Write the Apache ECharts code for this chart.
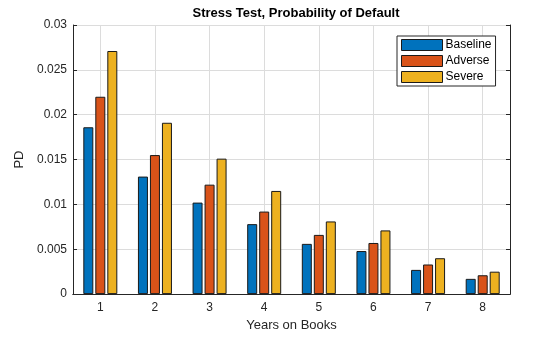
<!DOCTYPE html>
<html><head><meta charset="utf-8">
<script src="https://cdn.jsdelivr.net/npm/echarts@6/dist/echarts.min.js"></script>
<style>html,body{margin:0;padding:0;background:#fff}#c{width:560px;height:337px}</style>
</head><body><div id="c"></div>
<script>
const categories = ['1','2','3','4','5','6','7','8'];
const baseline = [0.0186, 0.0131, 0.0102, 0.0078, 0.0056, 0.0048, 0.0027, 0.0017];
const adverse  = [0.0220, 0.0155, 0.0122, 0.0092, 0.0066, 0.0057, 0.0033, 0.0021];
const severe   = [0.0271, 0.0191, 0.0151, 0.0115, 0.0081, 0.0071, 0.0040, 0.0025];
const seriesNames = ['Baseline','Adverse','Severe'];
const yTicks = ['0','0.005','0.01','0.015','0.02','0.025','0.03'];

const FONT = 'Liberation Sans, Arial, sans-serif';
const TXT = '#262626';
const chart = echarts.init(document.getElementById('c'), null, {renderer:'canvas'});
const mkSeries = (name, data, color) => ({
  name, type:'bar', data, xAxisIndex:0, yAxisIndex:0, z:3,
  barWidth:10, barGap:'20%',
  itemStyle:{color, borderColor:'#1a1a1a', borderWidth:1}
});
chart.setOption({
  animation:false,
  title:{text:'Stress Test, Probability of Default', left:291, top:2, textAlign:'center',
    textStyle:{fontFamily:FONT, fontSize:13, fontWeight:'bold', color:'#000'}},
  grid:{left:73, right:50, top:25, bottom:39},
  legend:{orient:'vertical', left:397, top:36, itemWidth:41, itemHeight:11, itemGap:4,
    icon:'rect', padding:[3,4,3,4], backgroundColor:'#fff', borderColor:'#262626', borderWidth:1, borderRadius:0,
    data:seriesNames,
    itemStyle:{borderWidth:1, borderColor:'#1a1a1a'},
    textStyle:{fontFamily:FONT, fontSize:12, color:'#000', padding:[0,0,0,-2]}},
  xAxis:[{type:'category', data:categories, position:'bottom',
    name:'Years on Books', nameLocation:'middle', nameGap:23,
    nameTextStyle:{fontFamily:FONT, fontSize:13, color:TXT},
    axisLine:{lineStyle:{color:TXT}},
    axisTick:{inside:true, alignWithLabel:true, length:4, lineStyle:{color:TXT}},
    axisLabel:{fontFamily:FONT, fontSize:12, color:TXT, margin:8},
    splitLine:{show:false}},
   {type:'category', data:categories, position:'top',
    axisLine:{lineStyle:{color:TXT}},
    axisTick:{inside:true, alignWithLabel:true, length:4, lineStyle:{color:TXT}},
    axisLabel:{show:false}, splitLine:{show:false}}],
  yAxis:[{type:'value', min:0, max:0.03, interval:0.005, position:'left',
    name:'PD', nameLocation:'middle', nameGap:42, nameRotate:90,
    nameTextStyle:{fontFamily:FONT, fontSize:13, color:TXT},
    axisLine:{show:true, lineStyle:{color:TXT}},
    axisTick:{show:true, inside:true, length:4, lineStyle:{color:TXT}},
    axisLabel:{fontFamily:FONT, fontSize:12, color:TXT, margin:6,
      formatter:(v)=>yTicks[Math.round(v/0.005)]},
    splitLine:{show:true, lineStyle:{color:'#dcdcdc'}}},
   {type:'value', min:0, max:0.03, interval:0.005, position:'right',
    axisLine:{show:true, lineStyle:{color:TXT}},
    axisTick:{show:true, inside:true, length:4, lineStyle:{color:TXT}},
    axisLabel:{show:false}, splitLine:{show:false}}],
  series:[
    mkSeries('Baseline', baseline, '#0072BD'),
    mkSeries('Adverse', adverse, '#D95319'),
    mkSeries('Severe', severe, '#EDB120'),
    {type:'line', xAxisIndex:0, yAxisIndex:0, data:[], silent:true, z:0,
     markLine:{z:0, silent:true, symbol:'none', label:{show:false}, lineStyle:{color:'#dcdcdc', type:'solid', width:1},
       data:categories.map(c=>({xAxis:c}))}}
  ]
});
</script></body></html>
